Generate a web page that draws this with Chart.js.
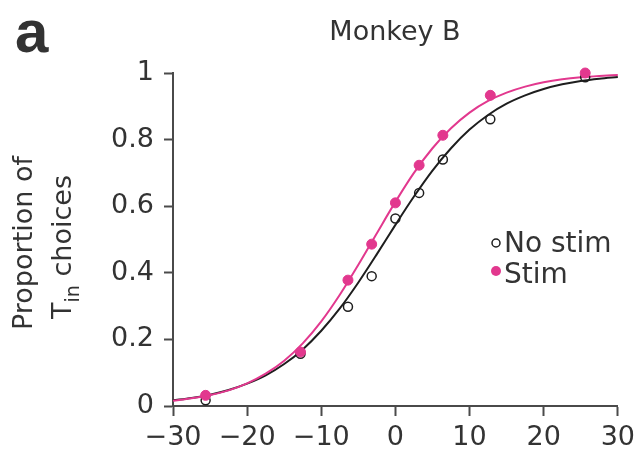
<!DOCTYPE html>
<html lang="en">
<head>
<meta charset="UTF-8">
<title>Monkey B</title>
<script src="https://cdn.jsdelivr.net/npm/chart.js"></script>
<style>
    body { margin: 0; background: #ffffff; }
    #wrap { width: 641px; height: 455px; }
</style>
</head>
<body>
<div id="wrap"><canvas id="chart" width="641" height="455"></canvas></div>
<script>
    // motion coherence (%) of the measured points
    const coherence = [-25.6, -12.8, -6.4, -3.2, 0, 3.2, 6.4, 12.8, 25.6];
    const noStimProp = [0.017, 0.157, 0.298, 0.39, 0.563, 0.64, 0.74, 0.861, 0.987];
    const stimProp = [0.032, 0.162, 0.378, 0.486, 0.61, 0.723, 0.813, 0.933, 1.0];

    // fitted curves
    const curveX = [-30, -27.5, -25, -22.5, -20, -17.5, -15, -12.5, -10, -7.5, -5, -2.5, 0,
                    2.5, 5, 7.5, 10, 12.5, 15, 17.5, 20, 22.5, 25, 27.5, 30];
    const noStimFit = [0.017, 0.024, 0.034, 0.048, 0.067, 0.092, 0.126, 0.170, 0.226, 0.293, 0.371, 0.456, 0.544,
                       0.629, 0.707, 0.774, 0.830, 0.874, 0.908, 0.933, 0.952, 0.966, 0.976, 0.983, 0.988];
    const stimFit = [0.016, 0.023, 0.033, 0.047, 0.068, 0.097, 0.136, 0.188, 0.254, 0.334, 0.424, 0.519, 0.613,
                     0.700, 0.774, 0.834, 0.881, 0.916, 0.941, 0.959, 0.972, 0.981, 0.987, 0.991, 0.994];

    const xTicks = [-30, -20, -10, 0, 10, 20, 30];
    const yTicks = [0, 0.2, 0.4, 0.6, 0.8, 1];

    const PINK = '#e2388e';
    const BLACK = '#1e1e1e';
    const AXIS = '#4a4a4a';
    const TEXT = '#333333';
    const FONT = 'DejaVu Sans';

    function pts(xs, ys) {
        return xs.map((x, i) => ({ x: x, y: ys[i] }));
    }

    // panel letter, title, y title with subscript and the legend
    const textPlugin = {
        id: 'textPlugin',
        afterDraw(chart) {
            const ctx = chart.ctx;
            ctx.save();
            ctx.fillStyle = TEXT;

            ctx.font = 'bold 60px "Liberation Sans"';
            ctx.textAlign = 'left';
            ctx.textBaseline = 'alphabetic';
            ctx.fillText('a', 15, 52);

            ctx.font = '27px "' + FONT + '"';
            ctx.textAlign = 'center';
            ctx.fillText('Monkey B', 395, 40);

            // y axis title, two rotated lines
            ctx.save();
            ctx.translate(32, 243);
            ctx.rotate(-Math.PI / 2);
            ctx.textAlign = 'center';
            ctx.fillText('Proportion of', 0, 0);
            ctx.restore();

            ctx.save();
            ctx.translate(71, 247);
            ctx.rotate(-Math.PI / 2);
            ctx.textAlign = 'left';
            const big = '27px "' + FONT + '"';
            const small = '19px "' + FONT + '"';
            ctx.font = big;
            const wT = ctx.measureText('T').width;
            const wC = ctx.measureText(' choices').width;
            ctx.font = small;
            const wIn = ctx.measureText('in').width;
            let x0 = -(wT + wIn + wC) / 2;
            ctx.font = big;
            ctx.fillText('T', x0, 0);
            ctx.font = small;
            ctx.fillText('in', x0 + wT, 8);
            ctx.font = big;
            ctx.fillText(' choices', x0 + wT + wIn, 0);
            ctx.restore();

            // legend
            ctx.font = '28px "' + FONT + '"';
            ctx.textAlign = 'left';
            ctx.fillText('No stim', 504, 252);
            ctx.fillText('Stim', 504, 283);
            ctx.beginPath();
            ctx.arc(496, 243, 4, 0, Math.PI * 2);
            ctx.lineWidth = 1.5;
            ctx.strokeStyle = BLACK;
            ctx.stroke();
            ctx.beginPath();
            ctx.arc(496, 271, 5, 0, Math.PI * 2);
            ctx.fillStyle = PINK;
            ctx.fill();
            ctx.restore();
        }
    };

    new Chart(document.getElementById('chart'), {
        type: 'scatter',
        data: {
            datasets: [
                {
                    label: 'Stim',
                    data: pts(coherence, stimProp),
                    pointRadius: 5,
                    pointBackgroundColor: PINK,
                    pointBorderColor: PINK,
                    pointBorderWidth: 1,
                    showLine: false,
                    clip: false
                },
                {
                    label: 'No stim',
                    data: pts(coherence, noStimProp),
                    pointRadius: 4.5,
                    pointBackgroundColor: 'rgba(0,0,0,0)',
                    pointBorderColor: BLACK,
                    pointBorderWidth: 1.5,
                    showLine: false,
                    clip: false
                },
                {
                    label: 'Stim fit',
                    data: pts(curveX, stimFit),
                    showLine: true,
                    pointRadius: 0,
                    borderColor: PINK,
                    borderWidth: 2,
                    cubicInterpolationMode: 'monotone',
                    clip: false
                },
                {
                    label: 'No stim fit',
                    data: pts(curveX, noStimFit),
                    showLine: true,
                    pointRadius: 0,
                    borderColor: BLACK,
                    borderWidth: 2,
                    cubicInterpolationMode: 'monotone',
                    clip: false
                }
            ]
        },
        options: {
            responsive: false,
            animation: false,
            layout: { padding: { top: 73, right: 22, left: 0, bottom: 0 } },
            plugins: {
                legend: { display: false },
                tooltip: { enabled: false },
                title: { display: false }
            },
            scales: {
                x: {
                    type: 'linear',
                    position: 'bottom',
                    min: -30,
                    max: 30,
                    afterBuildTicks: s => { s.ticks = xTicks.map(v => ({ value: v })); },
                    afterFit: s => { s.height = 49; },
                    border: { display: true, color: AXIS, width: 2 },
                    grid: {
                        drawOnChartArea: false,
                        drawTicks: true,
                        tickLength: 10,
                        tickColor: AXIS,
                        tickWidth: 2
                    },
                    ticks: {
                        color: TEXT,
                        padding: 6,
                        font: { family: FONT, size: 27 },
                        maxRotation: 0,
                        callback: v => String(v).replace('-', '\u2212')
                    }
                },
                y: {
                    type: 'linear',
                    min: 0,
                    max: 1,
                    afterBuildTicks: s => { s.ticks = yTicks.map(v => ({ value: v })); },
                    afterFit: s => { s.width = 173; },
                    border: { display: true, color: AXIS, width: 2 },
                    grid: {
                        drawOnChartArea: false,
                        drawTicks: true,
                        tickLength: 9,
                        tickColor: AXIS,
                        tickWidth: 2
                    },
                    ticks: {
                        color: TEXT,
                        padding: 10,
                        font: { family: FONT, size: 27 },
                        callback: v => String(v)
                    }
                }
            }
        },
        plugins: [textPlugin]
    });
</script>
</body>
</html>
